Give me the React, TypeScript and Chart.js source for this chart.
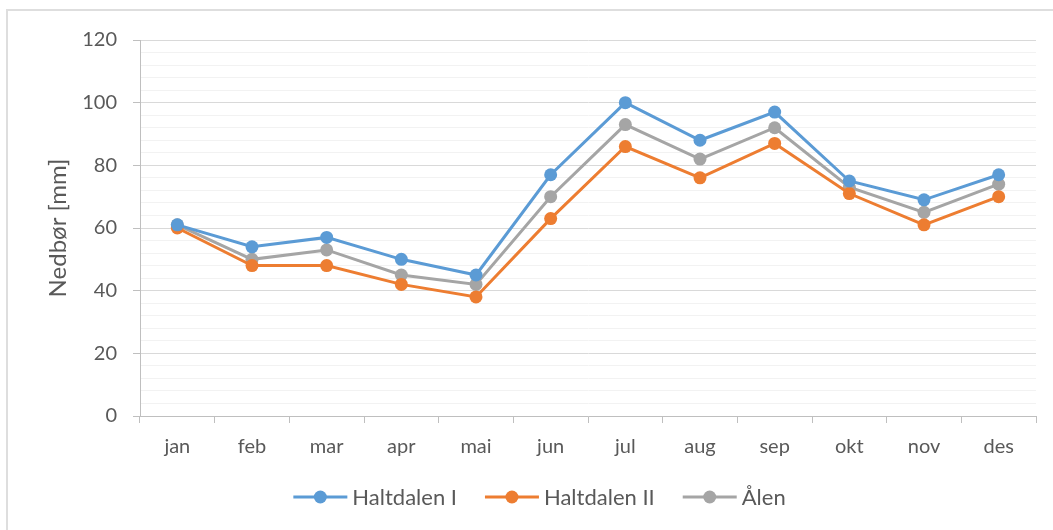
import React, { useEffect, useRef } from 'react';
import { Chart, registerables } from 'chart.js';

Chart.register(...registerables);

const months = ['jan', 'feb', 'mar', 'apr', 'mai', 'jun', 'jul', 'aug', 'sep', 'okt', 'nov', 'des'];
const haltdalenI = [61, 54, 57, 50, 45, 77, 100, 88, 97, 75, 69, 77];
const haltdalenII = [60, 48, 48, 42, 38, 63, 86, 76, 87, 71, 61, 70];
const alen = [61, 50, 53, 45, 42, 70, 93, 82, 92, 73, 65, 74];
const seriesNames = ['Haltdalen I', 'Haltdalen II', 'Ålen'];
const seriesColors = ['#5B9BD5', '#ED7D31', '#A5A5A5'];
const yMin = 0;
const yMax = 120;
const yMajorStep = 20;
const yMinorStep = 4;
const yTitle = 'Nedbør [mm]';

const FONT = 'Lato, "Open Sans", sans-serif';
const TEXT = '#595959';

const legendPlugin = {
  id: 'excelLegend',
  afterDraw(chart: any) {
    const ctx = chart.ctx as CanvasRenderingContext2D;
    ctx.save();
    ctx.font = `22px ${FONT}`;
    const items = chart.data.datasets.map((ds: any) => ({
      label: ds.label as string,
      color: ds.borderColor as string,
      w: ctx.measureText(ds.label).width,
    }));
    const symW = 54;
    const gapST = 5;
    const gapItems = 28;
    const total =
      items.reduce((s: number, it: any) => s + symW + gapST + it.w, 0) + gapItems * (items.length - 1);
    let x = 539.5 - total / 2;
    const y = 497;
    for (const it of items) {
      ctx.strokeStyle = it.color;
      ctx.lineWidth = 3;
      ctx.beginPath();
      ctx.moveTo(x, y);
      ctx.lineTo(x + symW, y);
      ctx.stroke();
      ctx.fillStyle = it.color;
      ctx.beginPath();
      ctx.arc(x + symW / 2, y, 6.5, 0, Math.PI * 2);
      ctx.fill();
      ctx.fillStyle = TEXT;
      ctx.textBaseline = 'middle';
      ctx.textAlign = 'left';
      ctx.fillText(it.label, x + symW + gapST, y + 1);
      x += symW + gapST + it.w + gapItems;
    }
    ctx.restore();
  },
};

export default function App() {
  const ref = useRef<HTMLCanvasElement>(null);

  useEffect(() => {
    if (!ref.current) return;
    const data = [haltdalenI, haltdalenII, alen];
    const chart = new Chart(ref.current, {
      type: 'line',
      data: {
        labels: months,
        datasets: data.map((d, i) => ({
          label: seriesNames[i],
          data: d,
          borderColor: seriesColors[i],
          backgroundColor: seriesColors[i],
          borderWidth: 3,
          pointRadius: 6.5,
          pointBorderWidth: 0,
          pointBackgroundColor: seriesColors[i],
          tension: 0,
          fill: false,
        })),
      },
      options: {
        animation: false,
        responsive: false,
        devicePixelRatio: 1,
        layout: { padding: { top: 40, right: 17, bottom: 0, left: 0 }, autoPadding: false },
        plugins: {
          legend: { display: false },
          tooltip: { enabled: false },
        },
        scales: {
          x: {
            type: 'category',
            offset: true,
            grid: {
              offset: true,
              drawOnChartArea: false,
              drawTicks: true,
              tickLength: 7,
              color: '#bfbfbf',
            },
            border: { display: true, color: '#bfbfbf', width: 1 },
            ticks: {
              font: { family: FONT, size: 20 },
              color: TEXT,
              padding: 12,
              maxRotation: 0,
              autoSkip: false,
            },
            afterFit: (scale: any) => {
              scale.height = 114;
            },
          },
          y: {
            min: yMin,
            max: yMax,
            grid: {
              color: (c: any) =>
                c.tick && c.tick.value % yMajorStep === 0 ? '#d9d9d9' : '#f2f2f2',
              tickColor: (c: any) =>
                c.tick && c.tick.value % yMajorStep === 0 ? '#bfbfbf' : 'rgba(0,0,0,0)',
              tickLength: 7,
              lineWidth: 1,
            },
            border: { display: true, color: '#bfbfbf', width: 1 },
            ticks: {
              stepSize: yMinorStep,
              autoSkip: false,
              font: { family: FONT, size: 20 },
              color: TEXT,
              padding: 16,
              callback: (v: any) => (Number(v) % yMajorStep === 0 ? String(v) : ''),
            },
            title: {
              display: true,
              text: yTitle,
              font: { family: FONT, size: 24 },
              color: TEXT,
              padding: { top: 44, bottom: 0 },
            },
            afterFit: (scale: any) => {
              scale.width = 140;
            },
          },
        },
      },
      plugins: [legendPlugin],
    });
    return () => chart.destroy();
  }, []);

  return (
    <div
      style={{
        position: 'fixed',
        left: 0,
        top: 0,
        width: 1053,
        height: 530,
        overflow: 'hidden',
        background: '#ffffff',
      }}
    >
      <div
        style={{
          position: 'absolute',
          left: 6,
          top: 9,
          width: 1100,
          height: 600,
          border: '2px solid #dedede',
          boxSizing: 'border-box',
        }}
      />
      <canvas
        ref={ref}
        width={1053}
        height={530}
        style={{ position: 'absolute', left: 0, top: 0, width: 1053, height: 530, display: 'block' }}
      />
    </div>
  );
}
